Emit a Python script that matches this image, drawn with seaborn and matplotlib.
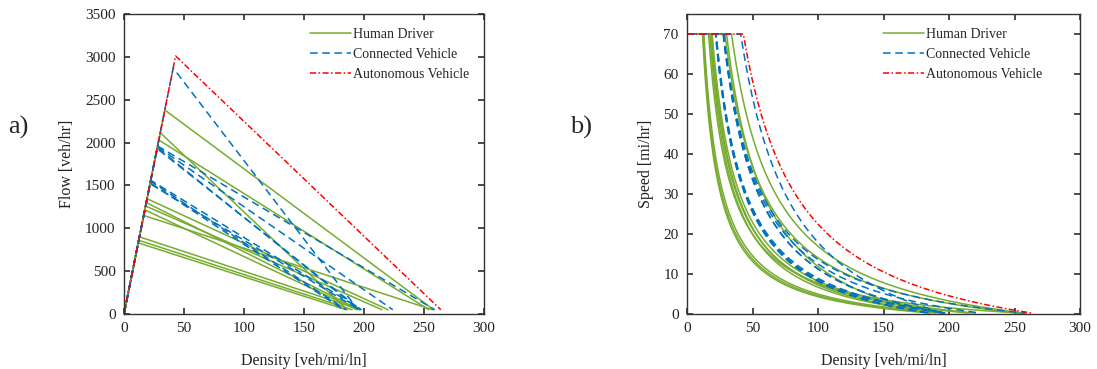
import numpy as np
import pandas as pd
import matplotlib
matplotlib.use("Agg")
import matplotlib.pyplot as plt
from matplotlib.lines import Line2D
import seaborn as sns

# ---------------- data ----------------
FREE_FLOW_SPEED = 70          # mi/hr
END_FLOW = 50                 # veh/hr at the end of each congested branch

hd_capacity = [2380, 2115, 2030, 1345, 1300, 1260, 1215, 1150, 900, 860, 830]
hd_jam      = [258, 186, 254, 220, 196, 215, 194, 257, 197, 190, 185]

cv_capacity = [2870, 1960, 1950, 1940, 1930, 1560, 1550, 1530, 1520]
cv_jam      = [195, 259, 224, 196, 197, 198, 185, 183, 196]

av_capacity = [3010]
av_jam      = [264]

groups = ["Human Driver", "Connected Vehicle", "Autonomous Vehicle"]
x_ticks = [0, 50, 100, 150, 200, 250, 300]
flow_ticks = [0, 500, 1000, 1500, 2000, 2500, 3000, 3500]
speed_ticks = [0, 10, 20, 30, 40, 50, 60, 70]

# ---------------- build tables ----------------
flow_rows, speed_rows = [], []
uid = 0
for g, caps, jams in zip(groups, [hd_capacity, cv_capacity, av_capacity],
                         [hd_jam, cv_jam, av_jam]):
    for qc, kj in zip(caps, jams):
        kc = qc / FREE_FLOW_SPEED
        for k, q in [(0, 0), (kc, qc), (kj, END_FLOW)]:
            flow_rows.append(dict(group=g, uid=uid, density=k, flow=q))
        w = (qc - END_FLOW) / (kj - kc)
        speed_rows.append(dict(group=g, uid=uid, density=0.0, speed=FREE_FLOW_SPEED))
        for k in np.linspace(kc, kj, 300):
            q = qc - w * (k - kc)
            speed_rows.append(dict(group=g, uid=uid, density=k, speed=q / k))
        uid += 1
flow_df = pd.DataFrame(flow_rows)
speed_df = pd.DataFrame(speed_rows)

# ---------------- style ----------------
sns.set_theme(style="ticks")
plt.rcParams["font.family"] = ["Liberation Serif", "DejaVu Serif"]
plt.rcParams["axes.edgecolor"] = "#333333"
plt.rcParams["axes.linewidth"] = 1.0

colors = {"Human Driver": "#77AC30", "Connected Vehicle": "#0072BD",
          "Autonomous Vehicle": "#FF0000"}
dashes = {"Human Driver": "", "Connected Vehicle": (5, 3),
          "Autonomous Vehicle": (4, 1.6, 1, 1.6)}

fig = plt.figure(figsize=(10.97, 3.69), dpi=100)
ax1 = fig.add_axes([124 / 1097, 1 - 314 / 369, 360 / 1097, 300 / 369])
ax2 = fig.add_axes([687 / 1097, 1 - 314 / 369, 393 / 1097, 300 / 369])


def draw(ax, df, ycol):
    for g in groups:
        sub = df[df.group == g]
        sns.lineplot(data=sub, x="density", y=ycol, units="uid", estimator=None,
                     sort=False, color=colors[g], linewidth=1.1, ax=ax,
                     legend=False, dashes=False,
                     linestyle="-" if g == "Human Driver" else "--")
        for line in ax.get_lines()[-sub.uid.nunique():]:
            if dashes[g]:
                line.set_dashes(dashes[g])


draw(ax1, flow_df, "flow")
draw(ax2, speed_df, "speed")

handles = []
for g in groups:
    h = Line2D([0], [0], color=colors[g], lw=1.1)
    if dashes[g]:
        h.set_dashes(dashes[g])
    handles.append(h)

legend_x = {0: (310 - 137) / 360, 1: (883 - 700) / 393}
for i, (ax, ylabel, yt, ylim) in enumerate(
        [(ax1, "Flow [veh/hr]", flow_ticks, (0, 3500)),
         (ax2, "Speed [mi/hr]", speed_ticks, (0, 75))]):
    ax.set_xlim(0, 300)
    ax.set_ylim(*ylim)
    ax.set_xticks(x_ticks)
    ax.set_yticks(yt)
    ax.tick_params(direction="in", top=True, right=True, length=4,
                   labelsize=11, colors="#333333", labelcolor="#222222", pad=6)
    for s in ax.spines.values():
        s.set_visible(True)
    ax.set_xlabel("Density [veh/mi/ln]", fontsize=11.5, labelpad=13, color="#222222")
    ax.set_ylabel(ylabel, fontsize=11.5, labelpad=7, color="#222222")
    ax.legend(handles, groups, loc="upper left", frameon=False, fontsize=10,
              handlelength=3.0, handletextpad=0.1, labelspacing=0.5,
              borderpad=0.4, bbox_to_anchor=(legend_x[i], 0.995))

fig.text(0.007, 0.655, "a)", fontsize=19, va="center", ha="left")
fig.text(0.520, 0.655, "b)", fontsize=19, va="center", ha="left")

fig.savefig("out.png", dpi=100)
